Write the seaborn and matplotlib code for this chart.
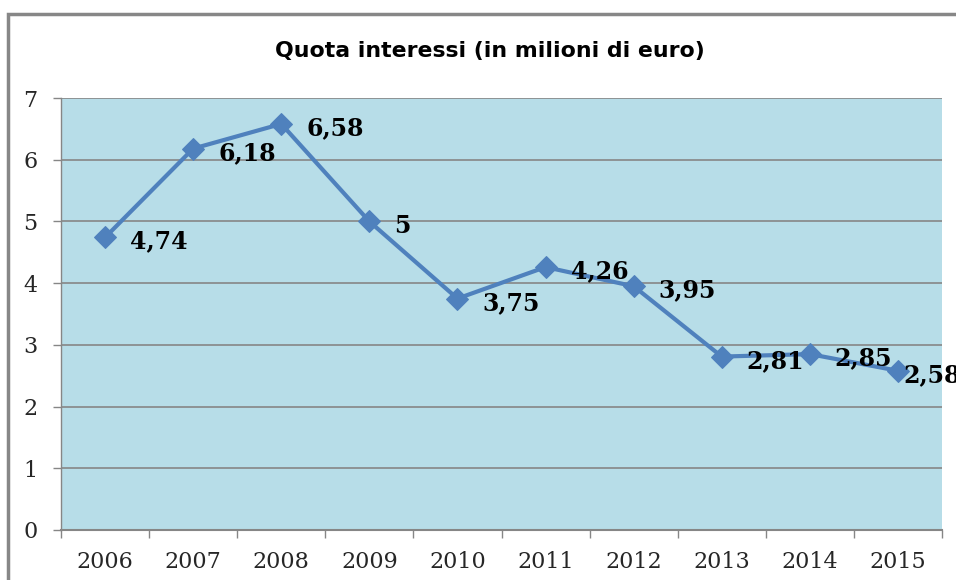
import matplotlib
matplotlib.use("Agg")
import matplotlib.pyplot as plt
import seaborn as sns
import pandas as pd
from matplotlib.patches import Rectangle

years = ["2006", "2007", "2008", "2009", "2010", "2011", "2012", "2013", "2014", "2015"]
values = [4.74, 6.18, 6.58, 5.0, 3.75, 4.26, 3.95, 2.81, 2.85, 2.58]
labels = ["4,74", "6,18", "6,58", "5", "3,75", "4,26", "3,95", "2,81", "2,85", "2,58"]
title = "Quota interessi (in milioni di euro)"

df = pd.DataFrame({"anno": years, "valore": values})
df["pos"] = range(len(years))

sns.set_theme(style="white")
plt.rcParams["font.family"] = ["DejaVu Serif"]

fig = plt.figure(figsize=(9.56, 5.80), dpi=100)
fig.patch.set_facecolor("white")
ax = fig.add_axes([61/956, 1-530/580, (942-61)/956, (530-98)/580])
ax.set_facecolor("#B7DDE8")

sns.lineplot(data=df, x="pos", y="valore", ax=ax, color="#4F81BD", linewidth=3,
             marker="D", markersize=11, markeredgecolor="#4F81BD", zorder=3)

n = len(years)
for i, (x, v, lab) in enumerate(zip(df["pos"], values, labels)):
    dx = 4 if i == n - 1 else 18
    ax.annotate(lab, (x, v), xytext=(dx, -3), textcoords="offset points",
                ha="left", va="center", fontsize=17, fontweight="bold",
                color="black", annotation_clip=False, clip_on=False, zorder=4)

ax.set_xlim(-0.5, n - 0.5)
ax.set_ylim(0, 7)
ax.set_yticks(range(0, 8))
ax.set_yticklabels([str(i) for i in range(0, 8)], fontsize=16)
ax.set_xticks([i + 0.5 for i in range(-1, n)])
ax.set_xticklabels([])
ax.set_xticks(range(n), minor=True)
ax.set_xticklabels(years, minor=True, fontsize=16)
ax.tick_params(axis="x", which="major", length=6, width=1, color="#868686", direction="out", bottom=True)
ax.tick_params(axis="x", which="minor", length=0, pad=15)
ax.tick_params(axis="y", which="major", length=6, width=1, color="#868686", direction="out", left=True, pad=11)
ax.grid(axis="y", color="#868686", linewidth=1.2)
ax.set_axisbelow(True)
ax.set_xlabel("")
ax.set_ylabel("")
for s in ["top", "right"]:
    ax.spines[s].set_visible(False)
ax.spines["left"].set_color("#868686")
ax.spines["bottom"].set_color("#868686")
ax.spines["bottom"].set_linewidth(1.5)
ax.spines["left"].set_linewidth(1)

fig.text(490/956, 1-51/580, title, ha="center", va="center", fontsize=15.8,
         fontweight="bold", family="DejaVu Sans", color="black")

border = Rectangle((8/956, -0.1), 1.2, 1 - 14/580 + 0.1, transform=fig.transFigure,
                   fill=False, edgecolor="#878787", linewidth=2.5, clip_on=False)
fig.patches.append(border)

fig.savefig("out.png", dpi=100, facecolor="white")
